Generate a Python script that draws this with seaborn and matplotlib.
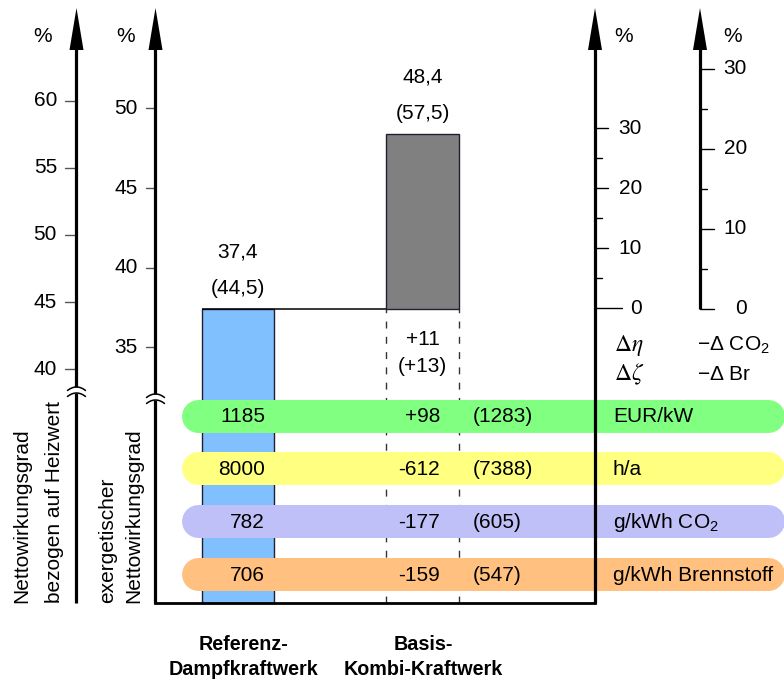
import matplotlib
matplotlib.use("Agg")
import numpy as np
import pandas as pd
import matplotlib.pyplot as plt
import seaborn as sns

# ---- data -------------------------------------------------------------
plants = ["Referenz-\nDampfkraftwerk", "Basis-\nKombi-Kraftwerk"]
eta_exergetic = [37.4, 48.4]      # exergetischer Nettowirkungsgrad in %
eta_net = [44.5, 57.5]            # Nettowirkungsgrad bezogen auf Heizwert in %

row_units = ["EUR/kW", "h/a", "g/kWh CO$_2$", "g/kWh Brennstoff"]
row_reference = [1185, 8000, 782, 706]
row_delta = [98, -612, -177, -159]
row_combined = [1283, 7388, 605, 547]
row_colors = ["#80ff80", "#ffff80", "#c0c0f8", "#ffc080"]

ticks_net = [40, 45, 50, 55, 60]
ticks_exergetic = [35, 40, 45, 50]
ticks_delta_eta = [0, 10, 20, 30]
ticks_delta_co2 = [0, 10, 20, 30]
ticks_minor = [5, 15, 25]

# ---- style ------------------------------------------------------------
sns.set_theme(style="white")
plt.rcParams["font.family"] = ["Liberation Sans", "DejaVu Sans"]
plt.rcParams["text.color"] = "black"
plt.rcParams["mathtext.fontset"] = "custom"
plt.rcParams["mathtext.rm"] = "Liberation Sans"
plt.rcParams["mathtext.it"] = "Liberation Sans:italic"
plt.rcParams["mathtext.bf"] = "Liberation Sans:bold"
FS = 15

W, H = 784, 686
fig = plt.figure(figsize=(W / 100, H / 100), dpi=100)
ax = fig.add_axes([0, 0, 1, 1])

# vertical data unit: exergetic efficiency in %, laid out on the page
Y40 = 267.7          # page row of the 40 % mark
PX_PER_PCT = 15.93


def yp(py):
    """page row (pixels from top) -> exergetic % value"""
    return 40 + (Y40 - py) / PX_PER_PCT


def net_row(v):
    return 369.3 - (v - 40) * 13.44


def deta_row(v):
    return 308.3 - 6.0 * v


def dco2_row(v):
    return 309.0 - 8.0 * v


X_AX1, X_AX2, X_AX3, X_AX4 = 76.5, 155.5, 595.0, 700.0
BOX_BOTTOM = 603.0
BAR_W = 72.5
bar_centers = [238.0, 422.5]
floor = yp(BOX_BOTTOM)

# ---- bars -------------------------------------------------------------
bars = pd.DataFrame({
    "x": bar_centers,
    "height": [eta_exergetic[0] - floor, eta_exergetic[1] - eta_exergetic[0]],
    "bottom": [floor, eta_exergetic[0]],
})
sns.barplot(data=bars, x="x", y="height", native_scale=True, orient="x",
            width=BAR_W / (bar_centers[1] - bar_centers[0]),
            bottom=bars["bottom"].to_numpy(), errorbar=None,
            color="#808080", saturation=1, linewidth=1.0,
            edgecolor="#202030", zorder=2, ax=ax)
for patch, c in zip(ax.patches, ["#80c0ff", "#808080"]):
    patch.set_facecolor(c)

# level line from the reference bar to the combined-cycle bar
ax.hlines(eta_exergetic[0], bar_centers[0] - BAR_W / 2, bar_centers[1] - BAR_W / 2,
          color="black", lw=1.1, zorder=3)
# dashed guides below the gain bar
ax.vlines([bar_centers[1] - BAR_W / 2, bar_centers[1] + BAR_W / 2], floor, eta_exergetic[0],
          colors="#333333", lw=1.0, linestyles=(0, (5, 6)), zorder=1)

# value labels above bars
for xc, ex, net in zip(bar_centers, eta_exergetic, eta_net):
    ax.annotate(f"{ex:.1f}".replace(".", ","), xy=(xc, ex), xytext=(0, 41),
                textcoords="offset points", ha="center", va="center", fontsize=FS)
    ax.annotate(f"({net:.1f})".replace(".", ","), xy=(xc, ex), xytext=(0, 15),
                textcoords="offset points", ha="center", va="center", fontsize=FS)

gain_ex = eta_exergetic[1] - eta_exergetic[0]
gain_net = eta_net[1] - eta_net[0]
ax.text(bar_centers[1], yp(339.5), f"{gain_ex:+.0f}", ha="center", va="center", fontsize=FS)
ax.text(bar_centers[1], yp(367), f"({gain_net:+.0f})", ha="center", va="center", fontsize=FS)

# ---- coloured rows ----------------------------------------------------
row_y0, row_step = 415.5, 52.8
for i, (unit, ref, d, comb, col) in enumerate(zip(row_units, row_reference, row_delta,
                                                  row_combined, row_colors)):
    yr = row_y0 + i * row_step
    ax.plot([198.5, 768], [yp(yr), yp(yr)], color=col, lw=33 * 0.72,
            solid_capstyle="round", zorder=3)
    ty = yp(yr + 1.5)
    ax.text(265, ty, f"{ref}", ha="right", va="center", fontsize=FS, zorder=5)
    ax.text(440, ty, f"{d:+d}", ha="right", va="center", fontsize=FS, zorder=5)
    ax.text(473, ty, f"({comb})", ha="left", va="center", fontsize=FS, zorder=5)
    ax.text(613, ty, unit, ha="left", va="center", fontsize=FS, zorder=5)

# ---- axes with arrows -------------------------------------------------
LW_AX = 2.3


def arrow_axis(x, bottom_row):
    ax.plot([x, x], [yp(46), yp(bottom_row)], color="black", lw=LW_AX,
            solid_capstyle="butt", zorder=6)
    ax.fill([x - 7, x, x + 7], [yp(50), yp(8), yp(50)], color="black", lw=0, zorder=6)


def axis_break(x, top_row):
    xs = np.linspace(x - 9, x + 9, 30)
    bend = 3.5 * ((xs - x) / 9) ** 2
    upper = top_row + bend
    lower = top_row + 6 + bend
    ax.fill_between(xs, yp(upper), yp(lower), color="white", lw=0, zorder=7)
    ax.plot(xs, yp(upper), color="black", lw=1.1, zorder=8)
    ax.plot(xs, yp(lower), color="black", lw=1.1, zorder=8)


arrow_axis(X_AX1, BOX_BOTTOM)
arrow_axis(X_AX2, BOX_BOTTOM)
arrow_axis(X_AX3, BOX_BOTTOM)
arrow_axis(X_AX4, 309)
axis_break(X_AX1, 387)
axis_break(X_AX2, 394)
ax.plot([X_AX2, X_AX3], [floor, floor], color="black", lw=2.0, zorder=6,
        solid_capstyle="projecting")

# ticks: net efficiency
for v in ticks_net:
    r = yp(net_row(v))
    ax.plot([65, X_AX1], [r, r], color="#555555", lw=1.0, zorder=5)
    ax.text(57, r, f"{v}", ha="right", va="center", fontsize=FS)
# ticks: exergetic efficiency
for v in ticks_exergetic:
    r = yp(Y40 - (v - 40) * PX_PER_PCT)
    ax.plot([146, X_AX2], [r, r], color="#555555", lw=1.0, zorder=5)
    ax.text(138, r, f"{v}", ha="right", va="center", fontsize=FS)
# ticks: relative efficiency gain
for v in ticks_delta_eta:
    r = yp(deta_row(v))
    ax.plot([X_AX3, 622 if v == 0 else 608], [r, r], color="black", lw=1.0, zorder=5)
    ax.text(642, r, f"{v}", ha="right", va="center", fontsize=FS)
for v in ticks_minor:
    r = yp(deta_row(v))
    ax.plot([X_AX3, 602], [r, r], color="black", lw=1.0, zorder=5)
# ticks: relative CO2 / fuel reduction
for v in ticks_delta_co2:
    r = yp(dco2_row(v))
    ax.plot([X_AX4, 714], [r, r], color="black", lw=1.0, zorder=5)
    ax.text(747, r, f"{v}", ha="right", va="center", fontsize=FS)
for v in ticks_minor:
    r = yp(dco2_row(v))
    ax.plot([X_AX4, 707], [r, r], color="black", lw=1.0, zorder=5)

# unit marks
for x in [43, 126, 624, 733]:
    ax.text(x, yp(36), "%", ha="center", va="center", fontsize=FS)

# axis legends
ax.text(614, yp(345), r"$\Delta\eta$", ha="left", va="center", fontsize=FS + 2,
        math_fontfamily="stix")
ax.text(614, yp(374), r"$\Delta\zeta$", ha="left", va="center", fontsize=FS + 2,
        math_fontfamily="stix")
ax.text(697, yp(345), r"$-\Delta$ CO$_2$", ha="left", va="center", fontsize=FS)
ax.text(697, yp(374), r"$-\Delta$ Br", ha="left", va="center", fontsize=FS)

# rotated axis titles
for x, txt in [(22, "Nettowirkungsgrad"), (55, "bezogen auf Heizwert"),
               (108, "exergetischer"), (134, "Nettowirkungsgrad")]:
    ax.text(x, yp(BOX_BOTTOM), txt, rotation=90, ha="center", va="bottom", fontsize=FS)

# plant names
for xc, name in zip([244, 423], plants):
    ax.text(xc, yp(657), name, ha="center", va="center", fontsize=14.2,
            fontweight="bold", linespacing=1.35)

ax.set_xlim(0, W)
ax.set_ylim(yp(H), yp(0))
ax.set_axis_off()
fig.savefig("out.png", dpi=100, facecolor="white")
